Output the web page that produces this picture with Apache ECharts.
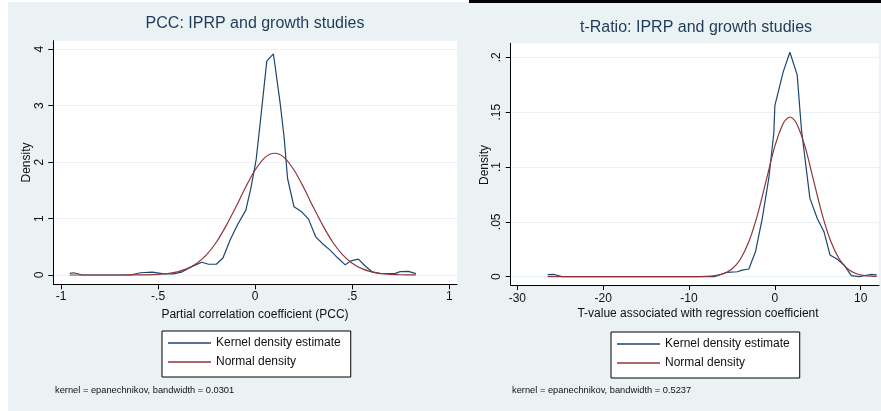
<!DOCTYPE html>
<html>
<head>
<meta charset="utf-8">
<script src="https://cdn.jsdelivr.net/npm/echarts@6/dist/echarts.min.js"></script>
<style>html,body{margin:0;padding:0;background:#fff}#c{width:881px;height:411px}</style>
</head>
<body>
<div id="c"></div>
<script>
// ---- Left panel: PCC ----
const pccTitle = 'PCC: IPRP and growth studies';
const pccXName = 'Partial correlation coefficient (PCC)';
const pccNote = 'kernel = epanechnikov, bandwidth = 0.0301';
const pccXTicks = [-1, -0.5, 0, 0.5, 1];
const pccXTickLabels = ['-1', '-.5', '0', '.5', '1'];
const pccYTicks = [0, 1, 2, 3, 4];
const pccYTickLabels = ['0', '1', '2', '3', '4'];
const pccKdeX = [-0.955,-0.936,-0.89,-0.644,-0.59,-0.53,-0.47,-0.42,-0.38,-0.335,-0.275,-0.24,-0.20,-0.166,-0.129,-0.091,-0.048,-0.022,0.005,0.022,0.06,0.094,0.129,0.149,0.167,0.20,0.24,0.275,0.313,0.352,0.386,0.426,0.464,0.493,0.532,0.567,0.606,0.644,0.72,0.747,0.79,0.828];
const pccKdeY = [0.03,0.04,0,0,0.04,0.05,0.02,0.02,0.05,0.135,0.225,0.19,0.19,0.30,0.62,0.89,1.15,1.54,2.04,2.57,3.79,3.92,3.04,2.45,1.71,1.21,1.12,0.99,0.67,0.54,0.44,0.30,0.18,0.25,0.28,0.16,0.05,0.025,0.025,0.06,0.065,0.025];
const pccNormX = [-0.955,-0.9,-0.8,-0.7,-0.6,-0.5,-0.45,-0.4,-0.35,-0.3,-0.25,-0.2,-0.15,-0.1,-0.05,0,0.05,0.1,0.15,0.2,0.25,0.3,0.35,0.4,0.45,0.5,0.55,0.6,0.65,0.7,0.75,0.8,0.828];
const pccNormY = [0,0,0,0.0002,0.002,0.011,0.026,0.056,0.112,0.208,0.36,0.58,0.87,1.20,1.55,1.86,2.08,2.157,2.08,1.86,1.55,1.20,0.87,0.58,0.36,0.208,0.112,0.056,0.026,0.011,0.004,0.002,0.001];

// ---- Right panel: t-Ratio ----
const tTitle = 't-Ratio: IPRP and growth studies';
const tXName = 'T-value associated with regression coefficient';
const tNote = 'kernel = epanechnikov, bandwidth = 0.5237';
const tXTicks = [-30, -20, -10, 0, 10];
const tXTickLabels = ['-30', '-20', '-10', '0', '10'];
const tYTicks = [0, 0.05, 0.1, 0.15, 0.2];
const tYTickLabels = ['0', '.05', '.1', '.15', '.2'];
const tKdeX = [-26.47,-25.7,-24.8,-7.1,-6.7,-5.55,-4.38,-3.8,-3.03,-2.25,-1.47,-0.70,-0.12,0,0.98,1.75,2.6,3.1,3.38,4.08,4.94,5.72,6.42,7.28,8.05,8.9,9.8,11.16,11.86];
const tKdeY = [0.0018,0.002,0,0,0.001,0.004,0.0045,0.006,0.007,0.023,0.053,0.09,0.131,0.156,0.187,0.2046,0.184,0.134,0.116,0.0716,0.053,0.041,0.0198,0.0159,0.0107,0.001,0,0.002,0.0017];
const tNormX = [-26.47,-20,-15,-10,-8,-7,-6,-5,-4,-3,-2,-1,0,1,1.75,2.5,3.5,4.5,5.5,6.5,7.5,8.5,9.5,10.5,11.5,11.86];
const tNormY = [0,0,0,0.00001,0.0003,0.0009,0.0027,0.007,0.0161,0.0325,0.0571,0.088,0.119,0.1402,0.1456,0.1402,0.119,0.088,0.0571,0.0325,0.0161,0.007,0.0027,0.0009,0.0003,0.0002];

const seriesNames = ['Kernel density estimate', 'Normal density'];
const yName = 'Density';

const FONT = 'Liberation Sans, Arial, sans-serif';
const BG = '#eaf2f3';
const BLUE = '#1a476f';
const RED = '#90353b';
const TITLE_C = '#1f3a5a';

function pairs(xs, ys) { return xs.map((x, i) => [x, ys[i]]); }
function lbl(values, labels) { return (v) => { const i = values.findIndex(t => Math.abs(t - v) < 1e-9); return i >= 0 ? labels[i] : ''; }; }

function xAxisCfg(idx, min, max, ticks, labels, margin) {
  return {
    type: 'value', gridIndex: idx, min: min, max: max,
    axisLine: { show: true, onZero: false, lineStyle: { color: '#000', width: 1 } },
    axisTick: { show: true, length: 5, customValues: ticks, lineStyle: { color: '#000' } },
    axisLabel: { customValues: ticks, formatter: lbl(ticks, labels), margin: margin, fontFamily: FONT, fontSize: 12, color: '#111' },
    splitLine: { show: false }
  };
}
function yAxisCfg(idx, min, max, ticks, labels) {
  return {
    type: 'value', gridIndex: idx, min: min, max: max,
    axisLine: { show: true, onZero: false, lineStyle: { color: '#000', width: 1 } },
    axisTick: { show: true, length: 5, customValues: ticks, lineStyle: { color: '#000' } },
    axisLabel: { customValues: ticks, formatter: lbl(ticks, labels), rotate: 90, margin: 8, fontFamily: FONT, fontSize: 12, color: '#111' },
    splitLine: { show: true, lineStyle: { color: BG, width: 1 } }
  };
}
function legendCfg(left, top) {
  return {
    data: seriesNames, orient: 'vertical', left: left, top: top,
    icon: 'rect', itemWidth: 43, itemHeight: 1.5, itemGap: 5, itemTextGap: 7,
    padding: [5, 10, 8, 6], borderColor: '#000', borderWidth: 1, backgroundColor: '#fff',
    textStyle: { fontFamily: FONT, fontSize: 12, color: '#111', lineHeight: 14 },
    selectedMode: false
  };
}
function txt(text, x, y, size, color, opts) {
  return Object.assign({ type: 'text', x: x, y: y, silent: true,
    style: { text: text, fontFamily: FONT, fontSize: size, fill: color, align: 'center', verticalAlign: 'middle' } }, opts || {});
}

const chart = echarts.init(document.getElementById('c'), null, { renderer: 'canvas' });
chart.setOption({
  animation: false,
  backgroundColor: BG,
  grid: [
    { left: 53.3, top: 40.7, width: 403.7, height: 243.6, show: true, backgroundColor: '#fff', borderWidth: 0 },
    { left: 510.7, top: 43.3, width: 368.3, height: 241.7, show: true, backgroundColor: '#fff', borderWidth: 0 }
  ],
  xAxis: [
    xAxisCfg(0, -1.04, 1.04, pccXTicks, pccXTickLabels, 6),
    xAxisCfg(1, -30.77, 12.13, tXTicks, tXTickLabels, 8)
  ],
  yAxis: [
    yAxisCfg(0, -0.165, 4.152, pccYTicks, pccYTickLabels),
    yAxisCfg(1, -0.0076, 0.2128, tYTicks, tYTickLabels)
  ],
  legend: [legendCfg(162, 331), legendCfg(611, 332)],
  series: [
    { name: seriesNames[0], type: 'line', xAxisIndex: 0, yAxisIndex: 0, data: pairs(pccKdeX, pccKdeY), showSymbol: false, symbol: 'none', color: BLUE, lineStyle: { width: 1.2, color: BLUE } },
    { name: seriesNames[1], type: 'line', xAxisIndex: 0, yAxisIndex: 0, data: pairs(pccNormX, pccNormY), showSymbol: false, symbol: 'none', smooth: 0.3, color: RED, lineStyle: { width: 1.2, color: RED } },
    { name: seriesNames[0], type: 'line', xAxisIndex: 1, yAxisIndex: 1, data: pairs(tKdeX, tKdeY), showSymbol: false, symbol: 'none', color: BLUE, lineStyle: { width: 1.2, color: BLUE } },
    { name: seriesNames[1], type: 'line', xAxisIndex: 1, yAxisIndex: 1, data: pairs(tNormX, tNormY), showSymbol: false, symbol: 'none', smooth: 0.3, color: RED, lineStyle: { width: 1.2, color: RED } }
  ],
  graphic: [
    { type: 'rect', shape: { x: 0, y: 0, width: 8, height: 411 }, style: { fill: '#fff' }, silent: true },
    { type: 'rect', shape: { x: 0, y: 0, width: 469, height: 2 }, style: { fill: '#fff' }, silent: true },
    { type: 'rect', shape: { x: 469, y: 0, width: 412, height: 3 }, style: { fill: '#000' }, silent: true },
    txt(pccTitle, 255, 24, 16, TITLE_C),
    txt(tTitle, 696, 28, 16, TITLE_C),
    txt(pccXName, 255, 315, 12, '#111'),
    txt(tXName, 698, 313.5, 12, '#111'),
    txt(yName, 26.5, 162.5, 12, '#111', { rotation: Math.PI / 2 }),
    txt(yName, 485, 165, 12, '#111', { rotation: Math.PI / 2 }),
    txt(pccNote, 55, 390, 9.3, '#111', { style: { text: pccNote, fontFamily: FONT, fontSize: 9.3, fill: '#111', align: 'left', verticalAlign: 'middle' } }),
    txt(tNote, 512, 390, 9.3, '#111', { style: { text: tNote, fontFamily: FONT, fontSize: 9.3, fill: '#111', align: 'left', verticalAlign: 'middle' } })
  ]
});
</script>
</body>
</html>
